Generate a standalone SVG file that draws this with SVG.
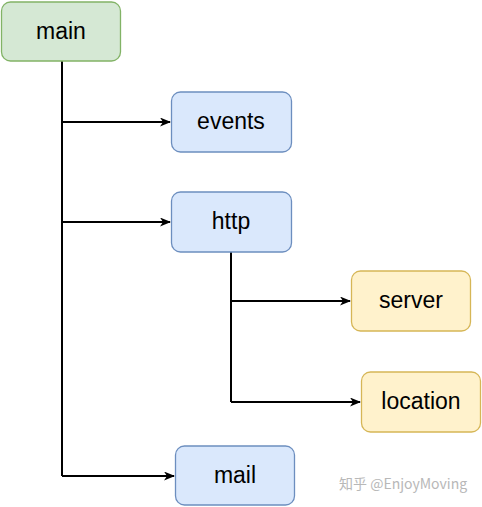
<svg xmlns="http://www.w3.org/2000/svg" width="482" height="507" viewBox="0 0 482 507">
<style>
.n{stroke-width:1.3}
.g{fill:#d5e8d4;stroke:#82b366}
.b{fill:#dae8fc;stroke:#6c8ebf}
.y{fill:#fff2cc;stroke:#d6b656}
.t{font-family:"Liberation Sans",Arial,sans-serif;font-size:23px;fill:#000;text-anchor:middle;dominant-baseline:central}
.c{fill:none;stroke:#000;stroke-width:2}
.w{font-family:"Noto Sans CJK SC","Liberation Sans",sans-serif;font-size:14px;fill:#b8b8b8}
</style>
<defs>
<marker id="a" markerWidth="11" markerHeight="9" refX="10" refY="4.5" orient="auto" markerUnits="userSpaceOnUse">
<path d="M0,0 L11,4.5 L0,9 L3,4.5 Z" fill="#000"/>
</marker>
</defs>
<rect width="482" height="507" fill="#fff"/>
<g id="connectors">
<path class="c" d="M62,61 V476"/>
<path class="c" d="M62,122 H170" marker-end="url(#a)"/>
<path class="c" d="M62,222 H170" marker-end="url(#a)"/>
<path class="c" d="M62,476 H174" marker-end="url(#a)"/>
<path class="c" d="M231,252 V402"/>
<path class="c" d="M231,301 H350" marker-end="url(#a)"/>
<path class="c" d="M231,402 H360" marker-end="url(#a)"/>
</g>
<g id="main"><rect class="n g" x="1.5" y="2" width="119" height="59" rx="9"/><text class="t" x="61" y="31">main</text></g>
<g id="events"><rect class="n b" x="171.5" y="92" width="120" height="60" rx="9"/><text class="t" x="231" y="121">events</text></g>
<g id="http"><rect class="n b" x="171.5" y="192" width="120" height="60" rx="9"/><text class="t" x="231" y="221">http</text></g>
<g id="server"><rect class="n y" x="351.5" y="271" width="119" height="60" rx="9"/><text class="t" x="411" y="300">server</text></g>
<g id="location"><rect class="n y" x="361.5" y="372" width="119" height="60" rx="9"/><text class="t" x="421" y="401">location</text></g>
<g id="mail"><rect class="n b" x="175.5" y="446" width="119" height="59" rx="9"/><text class="t" x="235" y="475">mail</text></g>
<text class="w" x="339" y="489">知乎 @EnjoyMoving</text>
</svg>
